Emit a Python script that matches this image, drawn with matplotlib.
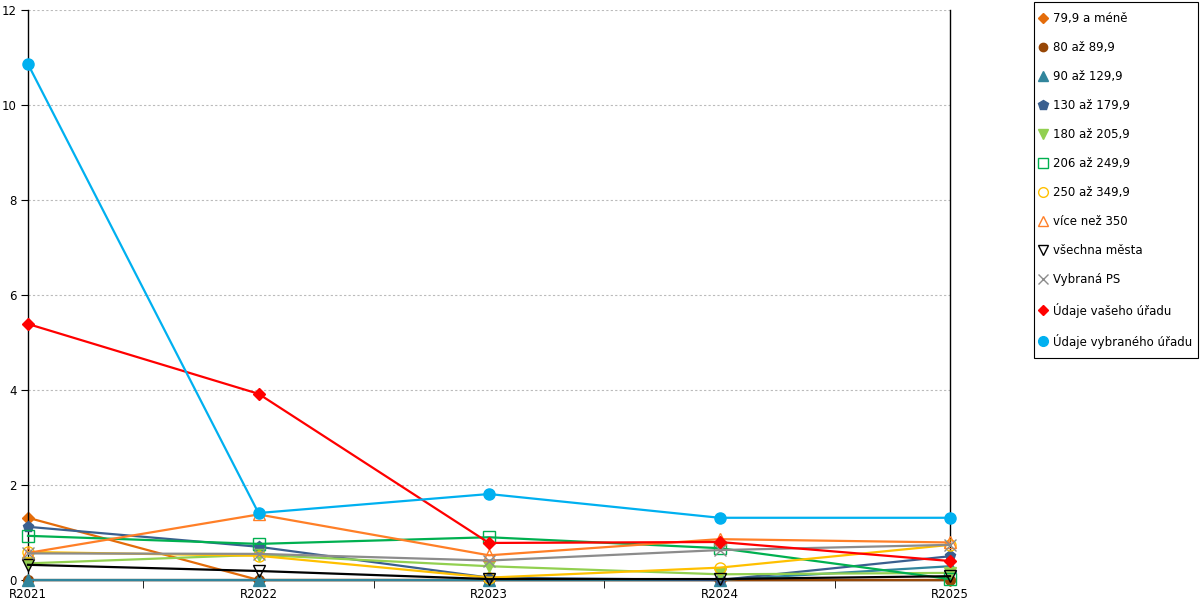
import numpy as np
import matplotlib
matplotlib.use("Agg")
import matplotlib.pyplot as plt
from matplotlib.ticker import MultipleLocator
from matplotlib.patches import Rectangle

plt.rcParams['font.family'] = ['DejaVu Sans']

years = ['R2021', 'R2022', 'R2023', 'R2024', 'R2025']

names = ['79,9 a méně', '80 až 89,9', '90 až 129,9', '130 až 179,9', '180 až 205,9',
         '206 až 249,9', '250 až 349,9', 'více než 350', 'všechna města', 'Vybraná PS',
         'Údaje vašeho úřadu', 'Údaje vybraného úřadu']

s_79 = [1.31, 0.0, 0.0, 0.0, 0.0]
s_80 = [0.0, 0.0, 0.0, 0.0, 0.0]
s_90 = [0.0, 0.0, 0.0, 0.0, 0.29]
s_130 = [1.12, 0.70, 0.05, 0.0, 0.50]
s_180 = [0.35, 0.53, 0.29, 0.12, 0.15]
s_206 = [0.93, 0.76, 0.90, 0.67, 0.02]
s_250 = [0.59, 0.51, 0.05, 0.26, 0.74]
s_350 = [0.57, 1.38, 0.52, 0.86, 0.79]
s_all = [0.32, 0.19, 0.02, 0.02, 0.08]
s_ps = [0.56, 0.55, 0.41, 0.63, 0.74]
s_vas = [5.39, 3.92, 0.78, 0.80, 0.40]
s_vyb = [10.86, 1.41, 1.81, 1.31, 1.31]

series = [s_79, s_80, s_90, s_130, s_180, s_206, s_250, s_350, s_all, s_ps, s_vas, s_vyb]
colors = ['#E46C0A', '#974706', '#31859C', '#3A5F8F', '#92D050', '#00B050',
          '#FFC000', '#FF7F27', '#000000', '#8C8C8C', '#FF0000', '#00B0F0']
markers = ['D', 'o', '^', 'p', 'v', 's', 'o', '^', 'v', 'x', 'D', 'o']
filled = [True, True, True, True, True, False, False, False, False, True, True, True]
msizes = [6, 7, 8, 8, 8, 8, 8, 8, 8, 8, 6, 8]

fig = plt.figure(figsize=(12, 6), dpi=100)
ax = fig.add_axes([28/1200, 20/600, 922/1200, 570/600])

x = np.arange(len(years))
for i, (name, vals) in enumerate(zip(names, series)):
    mfc = colors[i] if filled[i] else 'none'
    ax.plot(x, vals, color=colors[i], lw=1.6, marker=markers[i], ms=msizes[i],
            mfc=mfc, mec=colors[i], mew=1.0, label=name, zorder=2 + i, clip_on=False)

ax.set_xlim(0, len(years) - 1)
ax.set_ylim(0, 12)
ax.yaxis.set_major_locator(MultipleLocator(2))
ax.set_xticks(x)
ax.set_xticklabels(years)
ax.set_xticks(x[:-1] + 0.5, minor=True)
ax.tick_params(axis='x', which='major', length=0, pad=6, labelsize=8.5)
ax.tick_params(axis='x', which='minor', length=6, color='black')
ax.tick_params(axis='y', length=5, labelsize=8.5, pad=3)
ax.grid(axis='y', color='#bbbbbb', ls=(0, (2, 2)), lw=0.8)
ax.set_axisbelow(True)
for sp in ['left', 'bottom', 'right']:
    ax.spines[sp].set_color('black')
    ax.spines[sp].set_linewidth(1.0)
ax.spines['top'].set_visible(False)

# legend: markers only, frame drawn separately
leg_handles = []
for i in range(len(names)):
    mfc = colors[i] if filled[i] else 'none'
    h, = ax.plot([], [], ls='none', marker=markers[i], ms=msizes[i] - 1, mfc=mfc,
                 mec=colors[i], color=colors[i])
    leg_handles.append(h)
leg = fig.legend(leg_handles, names, loc='upper left', bbox_to_anchor=(1039/1200, 1 - 12/600),
                 frameon=False, fontsize=8.5, labelspacing=1.36, handlelength=0.7,
                 handletextpad=0.45, borderpad=0, borderaxespad=0)
fig.patches.append(Rectangle((1034/1200, 1 - 358/600), 164/1200, 356/600,
                             transform=fig.transFigure, fill=False,
                             edgecolor='black', lw=0.8))

fig.savefig('out.png', dpi=100)
